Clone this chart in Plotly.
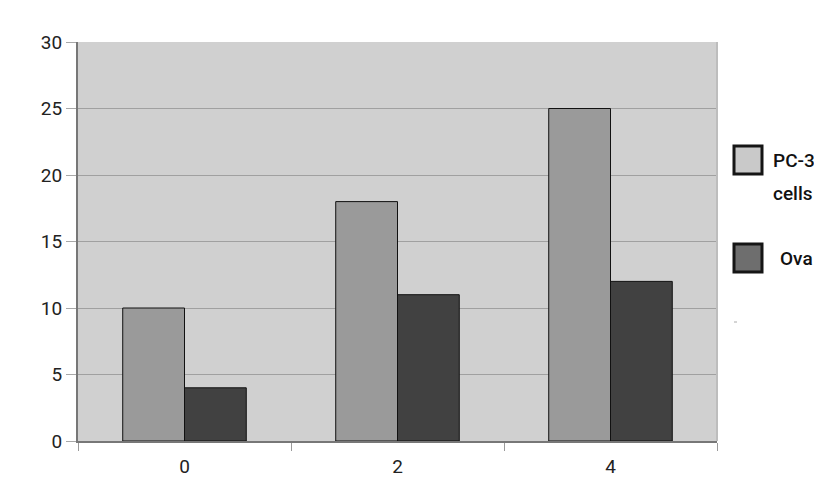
import plotly.graph_objects as go

categories = ["0", "2", "4"]
pc3_values = [10, 18, 25]
ova_values = [4, 11, 12]

FONT = "Roboto"

fig = go.Figure()
fig.add_trace(go.Bar(x=categories, y=pc3_values, name="PC-3 cells",
                     marker=dict(color="#9a9a9a", line=dict(color="#111111", width=1)),
                     showlegend=False))
fig.add_trace(go.Bar(x=categories, y=ova_values, name="Ova",
                     marker=dict(color="#414141", line=dict(color="#111111", width=1)),
                     showlegend=False))

fig.update_layout(
    width=814, height=501,
    margin=dict(l=78, r=97, t=42, b=60),
    paper_bgcolor="white",
    plot_bgcolor="#d0d0d0",
    barmode="group",
    bargap=0.42,
    bargroupgap=0,
    font=dict(family=FONT, size=19, color="#222222"),
    xaxis=dict(type="category", tickson="boundaries", ticks="outside", ticklen=8,
               tickcolor="#9a9a9a", showline=True, linecolor="#777777", linewidth=2,
               showgrid=False, tickfont=dict(size=19), ticklabelstandoff=7),
    yaxis=dict(range=[0, 30], tickvals=[0, 5, 10, 15, 20, 25, 30], ticks="outside",
               ticklen=10, tickcolor="#a8a8a8", showline=True, linecolor="#777777",
               linewidth=2, gridcolor="#a0a0a0", gridwidth=1, zeroline=False,
               tickfont=dict(size=19)),
)

# right border of plot area
fig.add_shape(type="line", xref="paper", yref="paper", x0=1, x1=1, y0=0, y1=1,
              line=dict(color="#bdbdbd", width=2))

# custom legend (page pixel coords converted to paper coords)
def px(x):
    return (x - 78) / 639

def py(y):
    return (441 - y) / 399

legend_colors = ["#c9c9c9", "#6e6e6e"]
box_tops = [146, 244]
for col, top in zip(legend_colors, box_tops):
    fig.add_shape(type="rect", xref="paper", yref="paper",
                  x0=px(734), x1=px(762), y0=py(top + 28), y1=py(top),
                  line=dict(color="#151515", width=3), fillcolor=col)

legend_font = dict(family=FONT, size=19, color="#111111", weight=500)
for text, x, y in [("PC-3", 772, 160), ("cells", 772, 193), ("Ova", 779, 258)]:
    fig.add_annotation(xref="paper", yref="paper", x=px(x), y=py(y),
                       text=text, showarrow=False, xanchor="left",
                       yanchor="middle", align="left", borderpad=0,
                       font=legend_font)

# small stray mark under legend
fig.add_shape(type="line", xref="paper", yref="paper", x0=px(734), x1=px(737),
              y0=py(322), y1=py(322), line=dict(color="#aaaaaa", width=1))

fig.write_html("out.html", config={"displayModeBar": False},
               post_script="document.body.style.margin='0';document.body.style.overflow='hidden';")
